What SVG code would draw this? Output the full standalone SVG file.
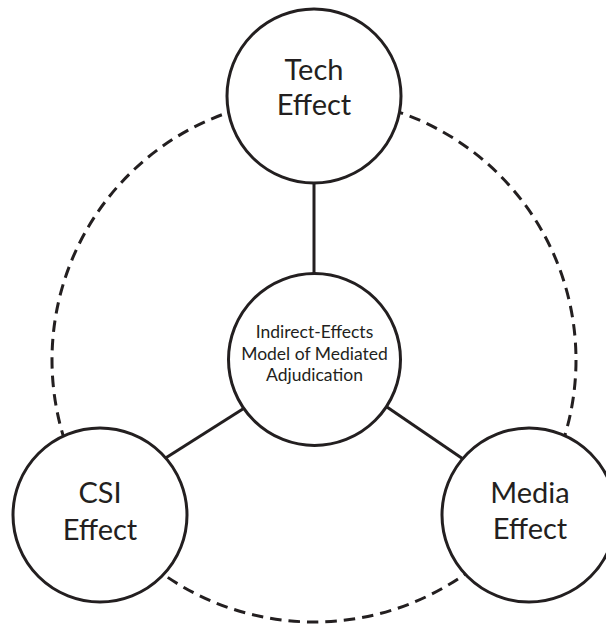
<svg xmlns="http://www.w3.org/2000/svg" width="606" height="625" viewBox="0 0 606 625">
<style>
.node{fill:#fff;stroke:#231f20;stroke-width:3}
.lbl{font-family:Lato,"Noto Sans",sans-serif;fill:#231f20;text-anchor:middle}
.big{font-size:29px}
.small{font-size:17.5px}
.conn{stroke:#231f20;stroke-width:3;fill:none}
</style>
<rect width="606" height="625" fill="#fff"/>
<g id="connectors">
<circle class="conn" cx="314" cy="360" r="262" stroke-dasharray="11.5 7"/>
<line class="conn" x1="314" y1="180" x2="314" y2="278"/>
<line class="conn" x1="164" y1="459" x2="246" y2="407"/>
<line class="conn" x1="384" y1="405" x2="466" y2="461"/>
</g>
<g id="tech">
<circle class="node" cx="314" cy="96" r="87"/>
<text class="lbl big" x="314" y="80">Tech</text>
<text class="lbl big" x="314" y="115">Effect</text>
</g>
<g id="center">
<circle class="node" cx="314.5" cy="359.5" r="86"/>
<text class="lbl small" x="314.5" y="338">Indirect-Effects</text>
<text class="lbl small" x="314.5" y="360">Model of Mediated</text>
<text class="lbl small" x="314.5" y="381">Adjudication</text>
</g>
<g id="csi">
<circle class="node" cx="100" cy="515" r="87"/>
<text class="lbl big" x="100" y="503">CSI</text>
<text class="lbl big" x="100" y="540">Effect</text>
</g>
<g id="media">
<circle class="node" cx="529" cy="515" r="87"/>
<text class="lbl big" x="530" y="503">Media</text>
<text class="lbl big" x="530" y="539">Effect</text>
</g>
</svg>
